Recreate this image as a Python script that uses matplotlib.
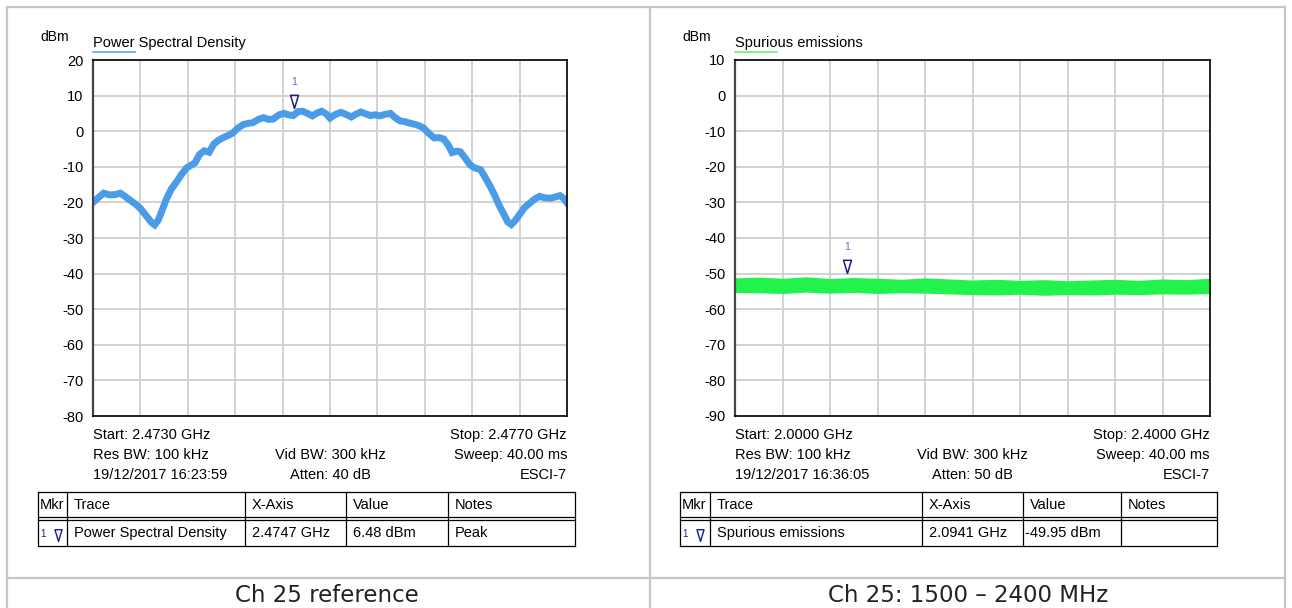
import matplotlib
matplotlib.use("Agg")
import matplotlib.pyplot as plt
from matplotlib.lines import Line2D
from matplotlib.path import Path
from matplotlib.transforms import Affine2D

# ---- data ----
psd_offset_mhz = [0.00, 0.04, 0.09, 0.14, 0.19, 0.23, 0.27, 0.31, 0.36, 0.40,
                  0.45, 0.49, 0.52, 0.55, 0.58, 0.62, 0.66, 0.71, 0.75, 0.79,
                  0.83, 0.86, 0.90, 0.94, 0.98, 1.02, 1.06, 1.10, 1.14, 1.18,
                  1.22, 1.27, 1.31, 1.35, 1.40, 1.44, 1.48, 1.52, 1.57, 1.61,
                  1.65, 1.69, 1.73, 1.77, 1.81, 1.85, 1.89, 1.93, 1.97, 2.00,
                  2.04, 2.09, 2.13, 2.18, 2.22, 2.26, 2.30, 2.34, 2.38, 2.42,
                  2.46, 2.51, 2.55, 2.59, 2.63, 2.68, 2.72, 2.76, 2.79, 2.83,
                  2.88, 2.92, 2.96, 3.00, 3.03, 3.07, 3.10, 3.14, 3.18, 3.22,
                  3.27, 3.31, 3.35, 3.39, 3.43, 3.47, 3.50, 3.53, 3.56, 3.60,
                  3.64, 3.69, 3.73, 3.77, 3.81, 3.86, 3.90, 3.94, 3.97, 4.00]
psd_dbm = [-20.0, -18.8, -17.4, -17.9, -17.8, -17.4, -18.3, -19.3, -20.5, -21.7,
           -23.8, -25.5, -26.3, -25.0, -22.5, -19.0, -16.3, -14.0, -12.0, -10.3,
           -9.5, -8.9, -6.5, -5.5, -5.9, -3.6, -2.5, -1.8, -1.2, -0.5,
           0.8, 1.9, 2.2, 2.4, 3.4, 3.8, 3.3, 3.4, 4.6, 5.0,
           4.6, 4.4, 5.5, 5.6, 5.0, 4.3, 5.1, 5.6, 4.8, 3.7,
           4.6, 5.3, 4.8, 4.0, 4.8, 5.4, 4.9, 4.4, 4.6, 4.3,
           4.7, 5.0, 3.8, 2.9, 2.7, 2.2, 1.9, 1.4, 0.9, -0.5,
           -1.9, -1.8, -2.2, -4.0, -6.0, -5.6, -5.8, -7.5, -9.4, -10.3,
           -10.8, -13.0, -15.4, -18.0, -21.0, -23.5, -25.5, -26.2, -25.2, -23.4,
           -21.5, -20.1, -19.0, -18.3, -18.7, -18.8, -18.5, -18.1, -18.8, -20.1]

spur_freq_ghz = [2.00, 2.02, 2.04, 2.06, 2.08, 2.10, 2.12, 2.14, 2.16, 2.18, 2.20,
                 2.22, 2.24, 2.26, 2.28, 2.30, 2.32, 2.34, 2.36, 2.38, 2.40]
spur_upper = [-51.2, -51.0, -51.3, -50.9, -51.4, -51.1, -51.3, -51.6, -51.2, -51.5, -51.8,
              -51.6, -51.9, -51.7, -52.0, -51.8, -51.6, -51.9, -51.5, -51.7, -51.3]
spur_lower = [-55.3, -55.4, -55.6, -55.2, -55.5, -55.3, -55.6, -55.4, -55.5, -55.7, -55.9,
              -56.0, -55.8, -56.1, -55.9, -56.0, -55.8, -55.9, -55.7, -55.8, -55.6]

panels = [
    dict(title="Power Spectral Density", color="#4a9be8", legend_color="#5aa5ee",
         start=2.4730, stop=2.4770, ylim=(-80, 20),
         mkr_freq=2.4747, mkr_val=6.48,
         info=["Start: 2.4730 GHz", "Stop: 2.4770 GHz", "Res BW: 100 kHz",
               "Vid BW: 300 kHz", "Sweep: 40.00 ms", "19/12/2017 16:23:59",
               "Atten: 40 dB", "ESCI-7"],
         row=["Power Spectral Density", "2.4747 GHz", "6.48 dBm", "Peak"],
         caption="Ch 25 reference"),
    dict(title="Spurious emissions", color="#22f24c", legend_color="#66ee77",
         start=2.0000, stop=2.4000, ylim=(-90, 10),
         mkr_freq=2.0941, mkr_val=-49.95,
         info=["Start: 2.0000 GHz", "Stop: 2.4000 GHz", "Res BW: 100 kHz",
               "Vid BW: 300 kHz", "Sweep: 40.00 ms", "19/12/2017 16:36:05",
               "Atten: 50 dB", "ESCI-7"],
         row=["Spurious emissions", "2.0941 GHz", "-49.95 dBm", ""],
         caption="Ch 25: 1500 \u2013 2400 MHz"),
]
header = ["Mkr", "Trace", "X-Axis", "Value", "Notes"]

# ---- layout in screenshot pixels ----
W, H = 1292, 608
ax_x = [(93, 567), (735, 1210)]
ax_top, ax_bot = 60, 416
table_cols = [[38, 67, 245, 346, 448, 575], [680, 710, 922, 1023, 1121, 1217]]
caption_x = [327, 968]

plt.rcParams["font.family"] = ["Liberation Sans", "DejaVu Sans"]
plt.rcParams["font.size"] = 10.5
plt.rcParams["axes.unicode_minus"] = False

fig = plt.figure(figsize=(W / 100, H / 100), dpi=100)
pix = Affine2D().scale(1 / W, -1 / H).translate(0, 1) + fig.transFigure

mkr_path = Path([(-0.3, 1.0), (0.3, 1.0), (0.0, 0.0), (-0.3, 1.0)],
                [Path.MOVETO, Path.LINETO, Path.LINETO, Path.CLOSEPOLY])
MKR_COLOR = "#1c1c8a"
MKR_LABEL = "#6a6ab8"
GRID = "#cfcfcf"


def line(xs, ys, **kw):
    fig.add_artist(Line2D(xs, ys, transform=pix, **kw))


# outer frame and panel dividers
frame = dict(color="#c6c6c6", lw=1.6)
line([7, 1285], [7, 7], **frame)
line([7, 7], [7, 608], **frame)
line([1285, 1285], [7, 608], **frame)
line([650, 650], [7, 608], **frame)
line([7, 1285], [578, 578], **frame)

for i, p in enumerate(panels):
    x0, x1 = ax_x[i]
    ax = fig.add_axes([x0 / W, 1 - ax_bot / H, (x1 - x0) / W, (ax_bot - ax_top) / H])
    ax.set_xlim(p["start"], p["stop"])
    ax.set_ylim(*p["ylim"])
    step = (p["stop"] - p["start"]) / 10
    ax.set_xticks([p["start"] + k * step for k in range(11)])
    ax.set_yticks(range(p["ylim"][0], p["ylim"][1] + 1, 10))
    ax.set_xticklabels([])
    ax.tick_params(length=0, pad=7, labelsize=10.5)
    ax.grid(True, color=GRID, lw=1.3)
    ax.set_axisbelow(True)
    for s in ax.spines.values():
        s.set_color("black")
        s.set_linewidth(1.2)
    ax.spines["left"].set_color("#444444")
    ax.spines["left"].set_linewidth(1.6)

    if i == 0:
        freqs = [p["start"] + m / 1000 for m in psd_offset_mhz]
        ax.plot(freqs, psd_dbm, color=p["color"], lw=5.0, solid_joinstyle="miter")
    else:
        ax.fill_between(spur_freq_ghz, spur_lower, spur_upper, color=p["color"], lw=0)

    ax.plot([p["mkr_freq"]], [p["mkr_val"]], marker=mkr_path, ms=19,
            mfc="none", mec=MKR_COLOR, mew=1.1, ls="none")
    ax.annotate("1", (p["mkr_freq"], p["mkr_val"]), xytext=(0, 19),
                textcoords="offset points", ha="center", va="center",
                fontsize=7.5, color=MKR_LABEL)

    # header: unit, title, legend swatch
    fig.text(x0 - 38, 37, "dBm", transform=pix, ha="center", va="center", fontsize=10)
    fig.text(x0, 43, p["title"], transform=pix, ha="left", va="center", fontsize=10.5)
    line([x0, x0 + 42], [52, 52], color=p["legend_color"], lw=1.2)

    # instrument settings under the plot
    cx = (x0 + x1) / 2
    info = p["info"]
    rows_y = [435, 455, 475]
    fig.text(x0, rows_y[0], info[0], transform=pix, ha="left", va="center")
    fig.text(x1, rows_y[0], info[1], transform=pix, ha="right", va="center")
    fig.text(x0, rows_y[1], info[2], transform=pix, ha="left", va="center")
    fig.text(cx, rows_y[1], info[3], transform=pix, ha="center", va="center")
    fig.text(x1, rows_y[1], info[4], transform=pix, ha="right", va="center")
    fig.text(x0, rows_y[2], info[5], transform=pix, ha="left", va="center")
    fig.text(cx, rows_y[2], info[6], transform=pix, ha="center", va="center")
    fig.text(x1, rows_y[2], info[7], transform=pix, ha="right", va="center")

    # marker table
    cols = table_cols[i]
    top, d1, d2, bot = 492, 517, 520, 546
    tl = dict(color="black", lw=0.9)
    for yy in (top, d1, d2, bot):
        line([cols[0], cols[-1]], [yy, yy], **tl)
    for xx in cols:
        line([xx, xx], [top, bot], **tl)
    for k, h in enumerate(header):
        fig.text(cols[k] + (2 if k == 0 else 7), 505, h, transform=pix,
                 ha="left", va="center")
    fig.text(cols[0] + 5, 534, "1", transform=pix, ha="center", va="center",
             fontsize=7, color=MKR_COLOR)
    fig.add_artist(Line2D([cols[0] + 20], [541], transform=pix, marker=mkr_path,
                          ms=17, mfc="none", mec=MKR_COLOR, mew=1.0, ls="none"))
    for k, v in enumerate(p["row"]):
        pad = 2 if k == 2 and i == 1 else 7
        fig.text(cols[k + 1] + pad, 533, v, transform=pix, ha="left", va="center")

    fig.text(caption_x[i], 595, p["caption"], transform=pix, ha="center", va="center",
             fontsize=16.5, family="DejaVu Sans", color="#222222")

fig.savefig("out.png", dpi=100)
